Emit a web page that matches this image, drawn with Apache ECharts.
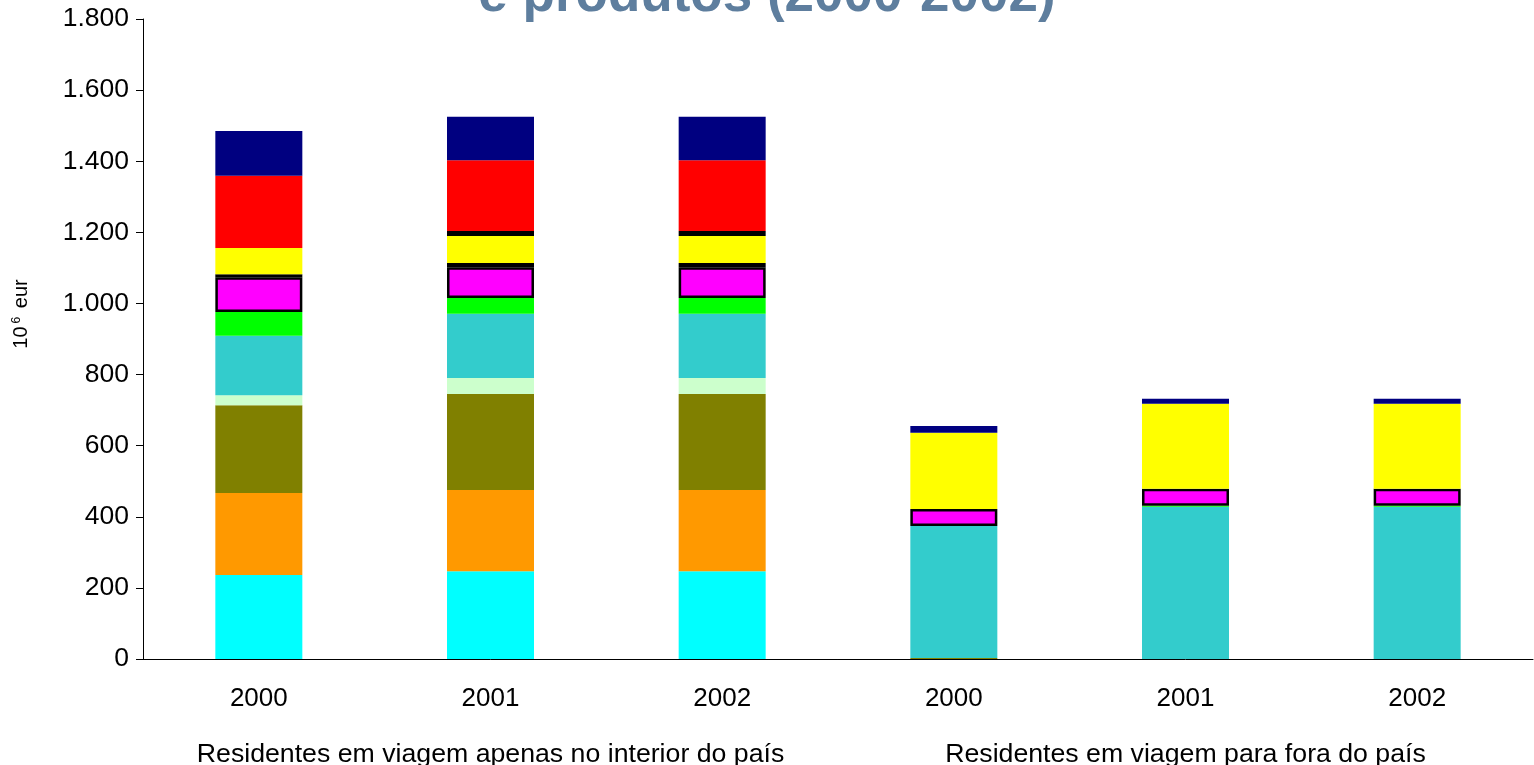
<!DOCTYPE html>
<html>
<head>
<meta charset="utf-8">
<script src="https://cdn.jsdelivr.net/npm/echarts@6/dist/echarts.min.js"></script>
<style>
html,body{margin:0;padding:0;background:#fff;}
#chart{width:1534px;height:765px;}
</style>
</head>
<body>
<div id="chart"></div>
<script>
// Categories
const years = ['2000', '2001', '2002', '2000', '2001', '2002'];
const groups = ['Residentes em viagem apenas no interior do país', 'Residentes em viagem para fora do país'];
const yTicks = [0, 200, 400, 600, 800, 1000, 1200, 1400, 1600, 1800];

// Series values (10^6 eur), stacked bottom to top
const serie1 = [236, 247, 247, 0, 0, 0];
const serie2 = [231, 228, 228, 0, 0, 0];
const serie3 = [247, 270, 270, 3, 0, 0];
const serie4 = [28, 45, 45, 0, 0, 0];
const serie5 = [167, 181, 181, 371, 428, 428];
const serie6 = [67, 44, 44, 0, 3, 3];
const serie7 = [98, 87, 87, 48, 48, 48];
const serie8 = [8, 12, 12, null, null, null];
const serie9 = [74, 76, 76, 214, 239, 239];
const serie10 = [null, 14, 14, null, null, null];
const serie11 = [203, 199, 199, 0, 0, 0];
const serie12 = [126, 122, 122, 19, 14, 14];

const seriesNames = ['Série 1','Série 2','Série 3','Série 4','Série 5','Série 6','Série 7','Série 8','Série 9','Série 10','Série 11','Série 12'];
const seriesData = [serie1, serie2, serie3, serie4, serie5, serie6, serie7, serie8, serie9, serie10, serie11, serie12];
const colors = ['#00FFFF','#FF9900','#808000','#CCFFCC','#33CCCC','#00FF00','#FF00FF','#000080','#FFFF00','#33CCCC','#FF0000','#000080'];
const bordered = [false,false,false,false,false,false,true,true,false,true,false,false];

const FONT = 'Liberation Sans, Arial, sans-serif';

const chart = echarts.init(document.getElementById('chart'), null, {renderer: 'canvas'});
const series = seriesData.map((d, i) => ({
  name: seriesNames[i],
  type: 'bar',
  stack: 'total',
  barWidth: 87,
  xAxisIndex: 0,
  data: d,
  itemStyle: {
    color: colors[i],
    borderColor: bordered[i] ? '#000000' : 'transparent',
    borderWidth: bordered[i] ? 2.5 : 0
  },
  emphasis: {disabled: true}
}));

chart.setOption({
  animation: false,
  backgroundColor: '#ffffff',
  title: {
    text: 'e produtos (2000-2002)',
    left: 'center',
    top: -35,
    textStyle: {fontSize: 53, fontWeight: 'bold', color: '#5e7e9e', fontFamily: FONT}
  },
  grid: {left: 143, right: 1, top: 19, bottom: 106, containLabel: false, outerBoundsMode: 'none'},
  xAxis: [
    {
      type: 'category',
      data: years,
      position: 'bottom',
      axisLine: {show: true, lineStyle: {color: '#000', width: 1}},
      axisTick: {show: false},
      axisLabel: {color: '#000', fontSize: 26, fontFamily: FONT, margin: 27, interval: 0},
      splitLine: {show: false}
    },
    {
      type: 'category',
      data: groups,
      position: 'bottom',
      axisLine: {show: false},
      axisTick: {show: false},
      axisLabel: {color: '#000', fontSize: 26.7, fontFamily: FONT, margin: 82, interval: 0},
      splitLine: {show: false}
    }
  ],
  yAxis: {
    type: 'value',
    min: yTicks[0],
    max: yTicks[yTicks.length - 1],
    interval: 200,
    axisLine: {show: true, lineStyle: {color: '#000', width: 1}},
    axisTick: {show: true, length: 7, lineStyle: {color: '#000'}},
    splitLine: {show: false},
    axisLabel: {
      color: '#000', fontSize: 26.5, fontFamily: FONT, margin: 14,
      formatter: v => String(v).replace(/\B(?=(\d{3})+(?!\d))/g, '.')
    },
    name: '10{sup|6} eur',
    nameLocation: 'middle',
    nameRotate: 90,
    nameGap: 112,
    nameTextStyle: {
      color: '#000', fontSize: 20, fontFamily: FONT, padding: [0, 0, 0, 50],
      rich: {sup: {fontSize: 12, fontFamily: FONT, color: '#000', verticalAlign: 'top', padding: [0, 3, 0, 3]}}
    }
  },
  series: series
});
</script>
</body>
</html>
